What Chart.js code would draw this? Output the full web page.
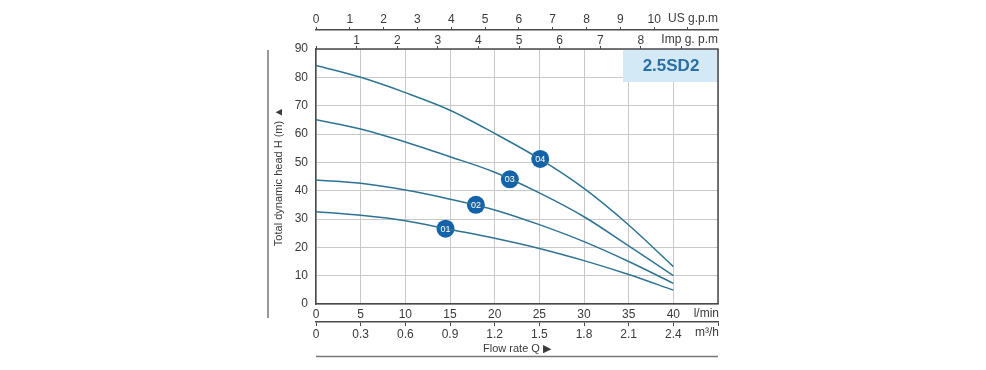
<!DOCTYPE html>
<html>
<head>
<meta charset="utf-8">
<title>2.5SD2 pump curve</title>
<script src="https://cdn.jsdelivr.net/npm/chart.js@4.4.0/dist/chart.umd.min.js"></script>
<style>
  html, body { margin: 0; padding: 0; background: #fff; }
  #wrap { width: 986px; height: 370px; }
</style>
</head>
<body>
<div id="wrap"><canvas id="pumpChart" width="986" height="370"></canvas></div>
<script>
// Flow in l/min and head in metres
const flowLmin = [0, 5, 10, 15, 20, 25, 30, 35, 40];
const head01 = [32.6, 31.3, 29.4, 26.3, 23.2, 19.6, 15.3, 10.4, 4.9];
const head02 = [43.8, 42.6, 40.2, 37.0, 33.2, 28.0, 22.0, 15.0, 7.3];
const head03 = [65.0, 61.8, 57.2, 52.0, 46.5, 39.2, 30.8, 20.5, 10.0];
const head04 = [84.2, 80.0, 74.6, 68.4, 60.2, 51.3, 40.8, 27.9, 13.2];
const curveNames = ['01', '02', '03', '04'];
const markerFlow = [14.5, 17.9, 21.7, 25.1];
const markerHead = [26.6, 35.0, 44.0, 51.2];
const modelName = '2.5SD2';

// axis ranges
const flowMax = 45;
const headMax = 90;
const LMIN_PER_USGPM = 3.785;
const LMIN_PER_IMPGPM = 4.546;

const lineColor = '#2f7393';
const markerColor = '#1462a8';
const gridColor = '#c9c9c9';
const axisColor = '#4a4a4a';
const textColor = '#3a3a3a';
const fontFamily = '"Liberation Sans", Arial, sans-serif';

function toPoints(ys) {
    return flowLmin.map((x, i) => ({ x: x, y: ys[i] }));
}

const curveDatasets = [head01, head02, head03, head04].map((ys, i) => ({
    label: curveNames[i],
    data: toPoints(ys),
    showLine: true,
    borderColor: lineColor,
    borderWidth: 1.5,
    pointRadius: 0,
    cubicInterpolationMode: 'monotone',
    xAxisID: 'x',
    yAxisID: 'y'
}));

const markerDataset = {
    label: 'markers',
    data: markerFlow.map((x, i) => ({ x: x, y: markerHead[i] })),
    showLine: false,
    pointRadius: 9,
    pointHoverRadius: 9,
    backgroundColor: markerColor,
    borderWidth: 0,
    xAxisID: 'x',
    yAxisID: 'y'
};

// extras: badge, unit labels, frame lines, curve numbers
const extrasPlugin = {
    id: 'extras',
    beforeDatasetsDraw(chart) {
        const ctx = chart.ctx;
        const area = chart.chartArea;
        ctx.save();
        // model badge
        ctx.fillStyle = '#d3eaf6';
        ctx.fillRect(area.right - 95, area.top, 95, 33);
        ctx.fillStyle = '#2a6ea6';
        ctx.font = 'bold 17px ' + fontFamily;
        ctx.textAlign = 'center';
        ctx.textBaseline = 'middle';
        ctx.fillText(modelName, area.right - 47, area.top + 17);
        ctx.restore();
    },
    afterDatasetsDraw(chart) {
        const ctx = chart.ctx;
        const area = chart.chartArea;
        const meta = chart.getDatasetMeta(curveDatasets.length);
        ctx.save();
        // curve numbers in the markers
        ctx.fillStyle = '#ffffff';
        ctx.font = '9px ' + fontFamily;
        ctx.textAlign = 'center';
        ctx.textBaseline = 'middle';
        meta.data.forEach((pt, i) => {
            ctx.fillText(curveNames[i], pt.x, pt.y + 0.5);
        });

        // plot frame (top and right)
        ctx.strokeStyle = axisColor;
        ctx.lineWidth = 1.5;
        ctx.beginPath();
        ctx.moveTo(area.left, area.top);
        ctx.lineTo(area.right, area.top);
        ctx.lineTo(area.right, area.bottom);
        ctx.stroke();

        // outer guide lines
        ctx.strokeStyle = '#777';
        ctx.lineWidth = 1.5;
        ctx.beginPath();
        ctx.moveTo(268, area.top + 1);
        ctx.lineTo(268, area.bottom + 14);
        ctx.moveTo(area.left, 356.5);
        ctx.lineTo(area.right, 356.5);
        ctx.stroke();

        // unit labels
        ctx.fillStyle = textColor;
        ctx.font = '12px ' + fontFamily;
        ctx.textAlign = 'right';
        ctx.textBaseline = 'middle';
        ctx.fillText('US g.p.m', area.right, 19);
        ctx.fillText('Imp g. p.m', area.right, 40);
        ctx.fillText('l/min', area.right + 1, 314);
        ctx.fillText('m³/h', area.right + 1, 333);
        ctx.restore();
    }
};

new Chart(document.getElementById('pumpChart'), {
    type: 'scatter',
    data: { datasets: [...curveDatasets, markerDataset] },
    options: {
        responsive: false,
        animation: false,
        devicePixelRatio: 1,
        layout: { padding: { left: 268, right: 268, top: 0, bottom: 14 } },
        plugins: {
            legend: { display: false },
            tooltip: { enabled: false }
        },
        scales: {
            x: {
                type: 'linear',
                position: 'bottom',
                weight: 0,
                min: 0,
                max: flowMax,
                afterFit: s => { s.height = 18; },
                ticks: {
                    stepSize: 5,
                    padding: 3,
                    color: textColor,
                    font: { family: fontFamily, size: 12 },
                    callback: v => (v >= flowMax ? '' : v)
                },
                grid: { color: gridColor, drawTicks: false },
                border: { color: axisColor, width: 1.5 }
            },
            xM3: {
                type: 'linear',
                position: 'bottom',
                weight: 1,
                min: 0,
                max: flowMax * 60 / 1000,
                afterFit: s => { s.height = 34; },
                ticks: {
                    stepSize: 0.3,
                    includeBounds: false,
                    padding: 1,
                    color: textColor,
                    font: { family: fontFamily, size: 12 },
                    callback: v => (v > 2.5 ? '' : (v === 0 ? '0' : v.toFixed(1)))
                },
                grid: { drawOnChartArea: false, tickLength: 4, color: axisColor },
                border: { color: axisColor, width: 1.5 },
                title: {
                    display: true,
                    text: 'Flow rate Q ▶',
                    color: textColor,
                    padding: { top: 0, bottom: 0 },
                    font: { family: fontFamily, size: 11 }
                }
            },
            xImp: {
                type: 'linear',
                position: 'top',
                weight: 0,
                min: 0,
                max: flowMax / LMIN_PER_IMPGPM,
                afterFit: s => { s.height = 19; },
                ticks: {
                    stepSize: 1,
                    includeBounds: false,
                    padding: -2,
                    color: textColor,
                    font: { family: fontFamily, size: 12 },
                    callback: v => (v === 0 || v > 8 ? '' : v)
                },
                grid: { drawOnChartArea: false, tickLength: 3, color: axisColor },
                border: { display: false }
            },
            xUs: {
                type: 'linear',
                position: 'top',
                weight: 1,
                min: 0,
                max: flowMax / LMIN_PER_USGPM,
                afterFit: s => { s.height = 30; },
                ticks: {
                    stepSize: 1,
                    includeBounds: false,
                    padding: 0,
                    color: textColor,
                    font: { family: fontFamily, size: 12 },
                    callback: v => (v > 10 ? '' : v)
                },
                grid: { drawOnChartArea: false, tickLength: 3, color: axisColor },
                border: { color: axisColor, width: 1.5 }
            },
            y: {
                type: 'linear',
                min: 0,
                max: headMax,
                afterFit: s => { s.width = 48; },
                ticks: {
                    stepSize: 10,
                    padding: 8,
                    color: textColor,
                    font: { family: fontFamily, size: 12 }
                },
                grid: { color: gridColor, drawTicks: false },
                border: { color: axisColor, width: 1.5 },
                title: {
                    display: true,
                    text: 'Total dynamic head H (m) ▲',
                    color: textColor,
                    padding: { top: 4, bottom: 0 },
                    font: { family: fontFamily, size: 11 }
                }
            }
        }
    },
    plugins: [extrasPlugin]
});
</script>
</body>
</html>
